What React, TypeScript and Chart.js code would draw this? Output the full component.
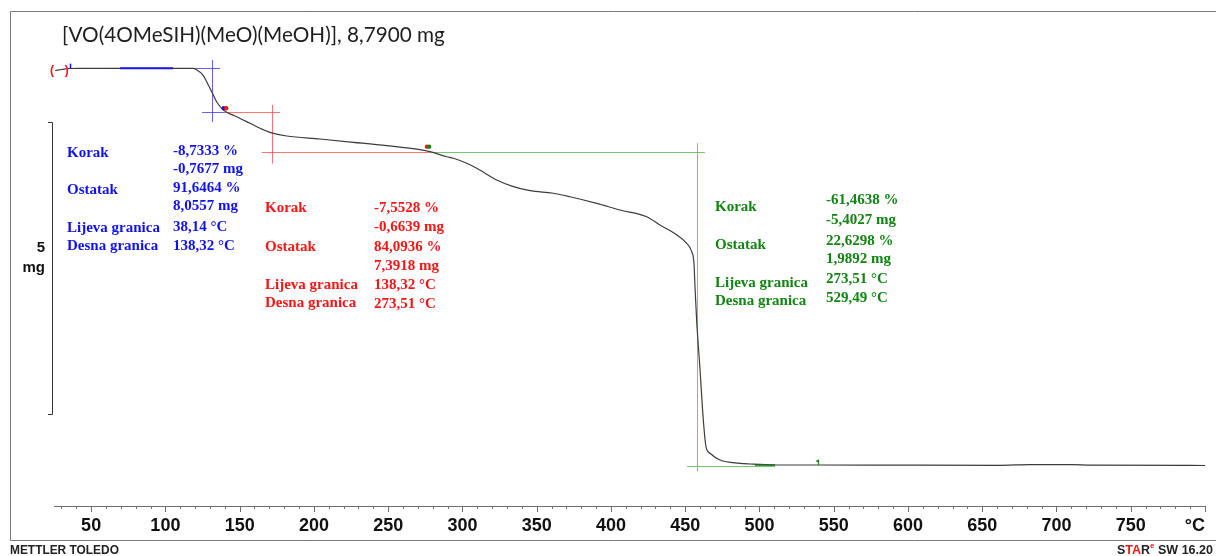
import React, { useEffect, useRef } from "react";
import { Chart, registerables } from "chart.js";

Chart.register(...registerables);

// ---------------- data ----------------
const temperatureC = [
  25.7, 30.4, 34.4, 42.5, 80.0, 118.6, 120.6, 125.3, 128.9, 131.2, 134.5, 137.9, 141.3, 148.0, 157.0,
  163.7, 170.4, 181.7, 204.1, 226.5, 249.0, 271.4, 278.2, 289.4, 293.9, 302.9, 309.6, 323.1, 334.3,
  345.5, 361.2, 372.4, 390.4, 406.1, 424.1, 433.0, 444.3, 451.0, 454.4, 455.9, 456.6, 457.7, 460.0,
  462.2, 464.0, 466.7, 473.5, 486.9, 493.6, 510.5, 540.8, 600.0, 662.0, 682.2, 711.1, 722.6, 800.0,
];
const massMg = [
  8.752, 8.770, 8.787, 8.790, 8.790, 8.790, 8.772, 8.675, 8.504, 8.389, 8.218, 8.105, 8.037, 7.961, 7.848,
  7.763, 7.694, 7.631, 7.579, 7.523, 7.465, 7.396, 7.362, 7.276, 7.249, 7.163, 7.078, 6.877, 6.763,
  6.694, 6.650, 6.591, 6.478, 6.364, 6.249, 6.107, 5.936, 5.793, 5.650, 5.451, 5.050, 4.480, 3.624,
  2.768, 2.311, 2.198, 2.083, 2.026, 2.014, 1.997, 1.997, 1.994, 1.992, 2.004, 2.004, 1.994, 1.989,
];

const xMin = 25;
const xMax = 800;
const yMin = 1.2951;
const yMax = 9.2746;
const majorTicks = [25, 50, 100, 150, 200, 250, 300, 350, 400, 450, 500, 550, 600, 650, 700, 750, 800];
const tickLabels = ["", "50", "100", "150", "200", "250", "300", "350", "400", "450", "500", "550", "600", "650", "700", "750", "°C"];

const titleText = "[VO(4OMeSIH)(MeO)(MeOH)], 8,7900 mg";
const stepLabels = ["Korak", "Ostatak", "Lijeva granica", "Desna granica"];
const blueValues = ["-8,7333 %", "-0,7677 mg", "91,6464 %", "8,0557 mg", "38,14 °C", "138,32 °C"];
const redValues = ["-7,5528 %", "-0,6639 mg", "84,0936 %", "7,3918 mg", "138,32 °C", "273,51 °C"];
const greenValues = ["-61,4638 %", "-5,4027 mg", "22,6298 %", "1,9892 mg", "273,51 °C", "529,49 °C"];

// evaluation guide lines, data units: [t1, m1, t2, m2]
const blueGuides = [[114.6, 8.79, 136.8, 8.79], [131.4, 8.932, 131.4, 7.87], [124.7, 8.04, 140.1, 8.04]];
const redGuides = [[140.1, 8.04, 177.2, 8.04], [171.6, 8.162, 171.6, 7.158], [164.8, 7.36, 278.2, 7.36]];
const greenGuides = [[278.2, 7.36, 463.3, 7.36], [457.7, 7.506, 457.7, 1.885], [451.2, 1.98, 510.5, 1.98]];
const bluePlateau = [69.4, 8.79, 105.1, 8.79];
const greenTail = [497.0, 1.997, 510.5, 1.997];
const scaleBarTopMg = 7.876;
const scaleBarSpanMg = 5;
const scaleBarText = ["5", "mg"];
const footerLeft = "METTLER TOLEDO";

// ---------------- layout / styles ----------------
const BLUE = "#1010f5";
const RED = "#f51515";
const GREEN = "#128412";
const blueBlock = { labelX: 67, valueX: 173, labelY: [157, 194, 232, 250], valueY: [155, 173, 192, 210, 231, 250] };
const redBlock = { labelX: 265, valueX: 374, labelY: [212, 251, 289, 307], valueY: [212, 231, 251, 270, 289, 308] };
const greenBlock = { labelX: 715, valueX: 826, labelY: [211, 249, 287, 305], valueY: [204, 224, 245, 263, 283, 302] };

function fitFont(ctx: CanvasRenderingContext2D, text: string, weight: string, family: string, base: number, target: number) {
  ctx.font = `${weight} ${base}px ${family}`;
  const w = ctx.measureText(text).width;
  const size = (base * target) / w;
  return `${weight} ${size.toFixed(2)}px ${family}`;
}

const decorPlugin = {
  id: "decor",
  beforeDraw(chart: any) {
    const ctx = chart.ctx as CanvasRenderingContext2D;
    ctx.save();
    ctx.fillStyle = "#ffffff";
    ctx.fillRect(0, 0, chart.width, chart.height);
    ctx.strokeStyle = "#7a7a7a";
    ctx.lineWidth = 1;
    ctx.beginPath();
    ctx.moveTo(1216, 11.5);
    ctx.lineTo(10.5, 11.5);
    ctx.lineTo(10.5, 540.5);
    ctx.lineTo(1216, 540.5);
    ctx.stroke();
    ctx.restore();
  },
  beforeDatasetsDraw(chart: any) {
    const ctx = chart.ctx as CanvasRenderingContext2D;
    ctx.save();
    blueGuides.forEach((g) => drawSeg(chart, g, "rgba(70,70,255,0.85)", 1));
    redGuides.forEach((g) => drawSeg(chart, g, "rgba(255,90,90,0.85)", 1));
    greenGuides.forEach((g) => drawSeg(chart, g, "rgba(90,190,90,0.85)", 1));
    ctx.restore();
  },
  afterDatasetsDraw(chart: any) {
    const ctx = chart.ctx as CanvasRenderingContext2D;
    const xs = chart.scales.x;
    const ys = chart.scales.y;
    ctx.save();
    drawSeg(chart, bluePlateau, "#1a1ae6", 2);
    drawSeg(chart, greenTail, "#1f6f1f", 1.6);
    // red brackets at the start
    ctx.fillStyle = RED;
    ctx.font = "bold 12px 'Liberation Sans'";
    ctx.textAlign = "center";
    ctx.textBaseline = "middle";
    ctx.fillText("(", xs.getPixelForValue(23.7), ys.getPixelForValue(8.744));
    ctx.fillText(")", xs.getPixelForValue(33.6), ys.getPixelForValue(8.744));
    // blue start tick
    const bx = Math.round(xs.getPixelForValue(36.0)) + 0.5;
    ctx.strokeStyle = BLUE;
    ctx.lineWidth = 1.5;
    ctx.beginPath();
    ctx.moveTo(bx, ys.getPixelForValue(8.79));
    ctx.lineTo(bx, ys.getPixelForValue(8.87));
    ctx.stroke();
    // boundary markers
    const dot = (t: number, m: number, c: string, dx: number) => {
      ctx.fillStyle = c;
      ctx.beginPath();
      ctx.arc(xs.getPixelForValue(t) + dx, ys.getPixelForValue(m), 2.2, 0, Math.PI * 2);
      ctx.fill();
    };
    dot(140.1, 8.105, BLUE, -1.2);
    dot(140.1, 8.105, RED, 1.2);
    dot(276.8, 7.448, RED, -1);
    dot(276.8, 7.448, GREEN, 1.2);
    // green flag
    const fx = Math.round(xs.getPixelForValue(539.4)) + 0.5;
    const fy0 = ys.getPixelForValue(1.997);
    const fy1 = ys.getPixelForValue(2.09);
    ctx.strokeStyle = GREEN;
    ctx.lineWidth = 1.2;
    ctx.beginPath();
    ctx.moveTo(fx, fy0);
    ctx.lineTo(fx, fy1);
    ctx.stroke();
    ctx.fillStyle = GREEN;
    ctx.beginPath();
    ctx.moveTo(fx, fy1);
    ctx.lineTo(fx - 3, fy1 + 1.5);
    ctx.lineTo(fx, fy1 + 3);
    ctx.fill();
    ctx.restore();
  },
  afterDraw(chart: any) {
    const ctx = chart.ctx as CanvasRenderingContext2D;
    const xs = chart.scales.x;
    const ys = chart.scales.y;
    ctx.save();
    // minor / major tick marks
    const axisY = xs.top;
    ctx.strokeStyle = "#6e6e6e";
    ctx.lineWidth = 1;
    ctx.beginPath();
    for (let t = 30; t <= xMax; t += 10) {
      const x = Math.round(xs.getPixelForValue(t)) + 0.5;
      const len = t % 50 === 0 ? 6 : 3;
      ctx.moveTo(x, axisY);
      ctx.lineTo(x, axisY + len);
    }
    ctx.stroke();

    // title
    ctx.fillStyle = "#1e1e1e";
    ctx.textAlign = "left";
    ctx.textBaseline = "alphabetic";
    ctx.font = fitFont(ctx, titleText, "normal", "Lato", 20, 383);
    ctx.fillText(titleText, 62, 42);

    // scale bar
    const top = Math.round(ys.getPixelForValue(scaleBarTopMg)) + 0.5;
    const bot = Math.round(ys.getPixelForValue(scaleBarTopMg - scaleBarSpanMg)) + 0.5;
    ctx.strokeStyle = "#333";
    ctx.lineWidth = 1;
    ctx.beginPath();
    ctx.moveTo(48, top);
    ctx.lineTo(52.5, top);
    ctx.lineTo(52.5, bot);
    ctx.lineTo(48, bot);
    ctx.stroke();
    ctx.fillStyle = "#111";
    ctx.font = "bold 15px 'Liberation Sans'";
    ctx.textAlign = "right";
    ctx.fillText(scaleBarText[0], 45, 252);
    ctx.fillText(scaleBarText[1], 45, 272);

    // evaluation blocks
    ctx.textAlign = "left";
    ctx.font = "bold 15px 'Liberation Serif'";
    const block = (b: any, values: string[], color: string) => {
      ctx.fillStyle = color;
      stepLabels.forEach((s, i) => ctx.fillText(s, b.labelX, b.labelY[i]));
      values.forEach((s, i) => ctx.fillText(s, b.valueX, b.valueY[i]));
    };
    block(blueBlock, blueValues, BLUE);
    block(redBlock, redValues, RED);
    block(greenBlock, greenValues, GREEN);

    // footer
    ctx.fillStyle = "#222";
    ctx.font = fitFont(ctx, footerLeft, "bold", "'Liberation Sans'", 11, 109);
    ctx.fillText(footerLeft, 10, 554);
    let x = 1117;
    const part = (s: string, c: string, f?: string, dy = 0) => {
      if (f) ctx.font = f;
      ctx.fillStyle = c;
      ctx.fillText(s, x, 554 + dy);
      x += ctx.measureText(s).width;
    };
    part("S", "#222", "bold 12.5px 'Liberation Sans'");
    part("TA", RED);
    part("R", "#222");
    part("e", RED, "bold 8px 'Liberation Sans'", -6);
    part(" SW 16.20", "#222", "bold 12.5px 'Liberation Sans'");
    ctx.restore();
  },
};

function drawSeg(chart: any, g: number[], color: string, w: number) {
  const ctx = chart.ctx as CanvasRenderingContext2D;
  const xs = chart.scales.x;
  const ys = chart.scales.y;
  ctx.strokeStyle = color;
  ctx.lineWidth = w;
  ctx.beginPath();
  let x1 = xs.getPixelForValue(g[0]);
  let y1 = ys.getPixelForValue(g[1]);
  let x2 = xs.getPixelForValue(g[2]);
  let y2 = ys.getPixelForValue(g[3]);
  if (Math.abs(x1 - x2) < 0.01) { x1 = x2 = Math.round(x1) + 0.5; }
  if (Math.abs(y1 - y2) < 0.01 && w === 1) { y1 = y2 = Math.round(y1) + 0.5; }
  ctx.moveTo(x1, y1);
  ctx.lineTo(x2, y2);
  ctx.stroke();
}

export default function App() {
  const ref = useRef<HTMLCanvasElement | null>(null);
  useEffect(() => {
    if (!ref.current) return;
    const points = temperatureC.map((t, i) => ({ x: t, y: massMg[i] }));
    const chart = new Chart(ref.current, {
      type: "line",
      data: {
        datasets: [
          {
            data: points,
            borderColor: "#3c3c3c",
            borderWidth: 1.2,
            pointRadius: 0,
            fill: false,
            cubicInterpolationMode: "monotone",
          },
        ],
      },
      options: {
        responsive: false,
        animation: false,
        devicePixelRatio: 1,
        events: [],
        layout: { padding: { left: 54, right: 11, top: 40, bottom: 10 } },
        plugins: { legend: { display: false }, tooltip: { enabled: false }, title: { display: false } },
        scales: {
          x: {
            type: "linear",
            min: xMin,
            max: xMax,
            afterBuildTicks: (s: any) => {
              s.ticks = majorTicks.map((v) => ({ value: v }));
            },
            afterFit: (s: any) => {
              s.height = 40;
            },
            grid: { display: false },
            border: { display: true, color: "#6e6e6e", width: 1 },
            ticks: {
              autoSkip: false,
              maxRotation: 0,
              minRotation: 0,
              align: "inner",
              padding: 1,
              color: "#111",
              font: { family: "'Liberation Sans'", size: 18, weight: "bold" },
              callback: (v: any) => {
                const i = majorTicks.indexOf(Number(v));
                return i >= 0 ? tickLabels[i] : "";
              },
            },
          },
          y: { type: "linear", display: false, min: yMin, max: yMax },
        },
      },
      plugins: [decorPlugin],
    } as any);
    return () => chart.destroy();
  }, []);
  return (
    <div style={{ position: "absolute", left: 0, top: 0, width: 1216, height: 556, background: "#fff" }}>
      <canvas ref={ref} width={1216} height={556} style={{ display: "block" }} />
    </div>
  );
}
